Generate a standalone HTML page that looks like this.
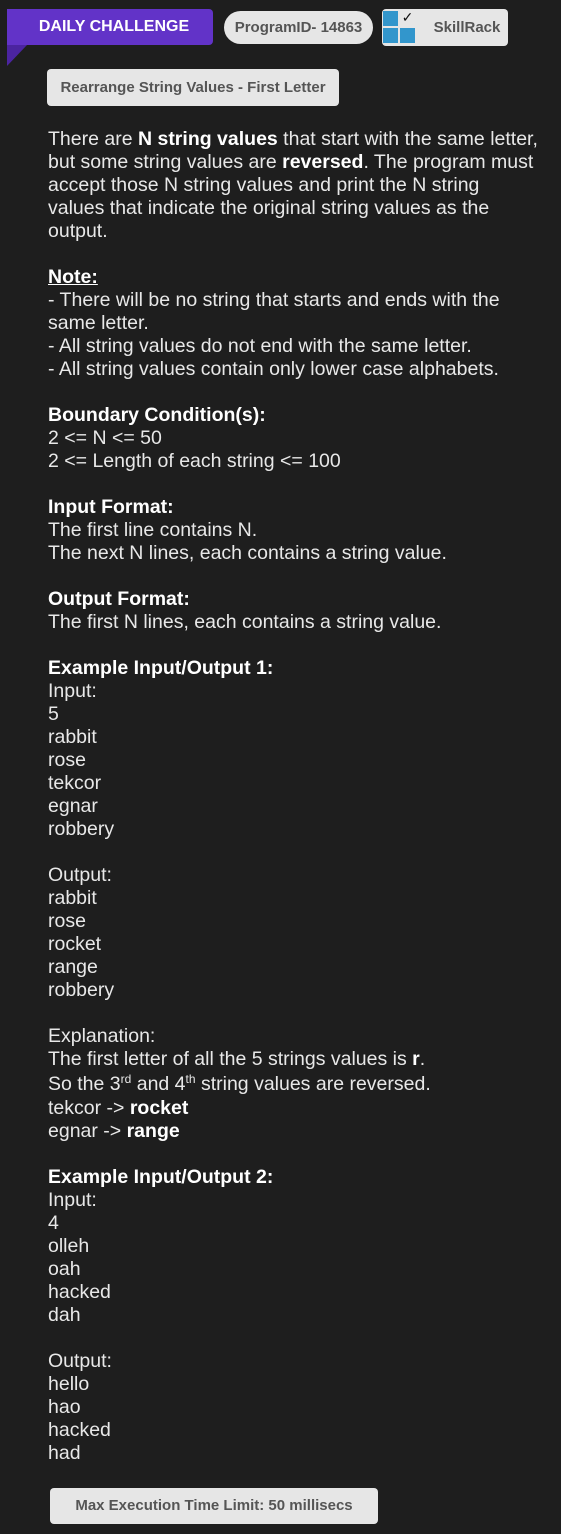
<!DOCTYPE html>
<html><head><meta charset="utf-8"><style>
html,body{margin:0;padding:0;background:#1e1e1e;}
body{width:561px;height:1534px;position:relative;overflow:hidden;font-family:"Liberation Sans",sans-serif;}
.dc{position:absolute;left:7px;top:9px;width:206px;height:36px;background:#6233c8;border-radius:0 4px 4px 0;color:#fff;font-weight:bold;font-size:16px;line-height:36px;text-align:center;padding-left:8px;box-sizing:border-box;}
.tri{position:absolute;left:7px;top:45px;width:0;height:0;border-left:20px solid #4b24a0;border-bottom:21px solid transparent;}
.pid{position:absolute;left:224px;top:11px;width:149px;height:33px;background:#e6e6e6;border-radius:17px;color:#555;font-weight:bold;font-size:15px;line-height:33px;text-align:center;}
.sr{position:absolute;left:382px;top:9px;width:126px;height:37px;background:#e6e6e6;border-radius:4px;}
.sr .q{position:absolute;width:15px;height:15px;background:#3296cc;}
.sr .t{position:absolute;left:44px;top:0;width:82px;line-height:37px;text-align:center;color:#555;font-weight:bold;font-size:15px;}
.title{position:absolute;left:47px;top:69px;width:292px;height:37px;background:#e6e6e6;border-radius:4px;color:#555;font-weight:bold;font-size:15px;line-height:37px;text-align:center;}
.body{position:absolute;left:48px;top:128px;width:520px;color:#e8e8e8;font-size:19.5px;line-height:23px;white-space:nowrap;}
.body p{margin:0;}
b{color:#fff;}
sup{font-size:12px;line-height:0;vertical-align:7px;}
.mx{position:absolute;left:50px;top:1488px;width:328px;height:36px;background:#e6e6e6;border-radius:4px;color:#555;font-weight:bold;font-size:15px;line-height:36px;text-align:center;}
</style></head><body>
<div class="dc">DAILY CHALLENGE</div>
<div class="tri"></div>
<div class="pid">ProgramID- 14863</div>
<div class="sr">
<div class="q" style="left:1px;top:2px"></div>
<div class="q" style="left:1px;top:19px"></div>
<div class="q" style="left:18px;top:19px"></div>
<div style="position:absolute;left:18px;top:1px;width:15px;height:15px;color:#111;font-size:14px;line-height:15px;text-align:center;">✓</div>
<div class="t">SkillRack</div>
</div>
<div class="title">Rearrange String Values - First Letter</div>
<div class="body">
<p>There are <b>N string values</b> that start with the same letter,<br>but some string values are <b>reversed</b>. The program must<br>accept those N string values and print the N string<br>values that indicate the original string values as the<br>output.</p>
<p>&nbsp;</p>
<p><b><u>Note:</u></b></p>
<p>- There will be no string that starts and ends with the<br>same letter.</p>
<p>- All string values do not end with the same letter.</p>
<p>- All string values contain only lower case alphabets.</p>
<p>&nbsp;</p>
<p><b>Boundary Condition(s):</b></p>
<p>2 &lt;= N &lt;= 50</p>
<p>2 &lt;= Length of each string &lt;= 100</p>
<p>&nbsp;</p>
<p><b>Input Format:</b></p>
<p>The first line contains N.</p>
<p>The next N lines, each contains a string value.</p>
<p>&nbsp;</p>
<p><b>Output Format:</b></p>
<p>The first N lines, each contains a string value.</p>
<p>&nbsp;</p>
<p><b>Example Input/Output 1:</b></p>
<p>Input:</p><p>5</p><p>rabbit</p><p>rose</p><p>tekcor</p><p>egnar</p><p>robbery</p>
<p>&nbsp;</p>
<p>Output:</p><p>rabbit</p><p>rose</p><p>rocket</p><p>range</p><p>robbery</p>
<p>&nbsp;</p>
<p>Explanation:</p>
<p>The first letter of all the 5 strings values is <b>r</b>.</p>
<p style="line-height:26px;">So the 3<sup>rd</sup> and 4<sup>th</sup> string values are reversed.</p>
<p>tekcor -&gt; <b>rocket</b></p>
<p>egnar -&gt; <b>range</b></p>
<p>&nbsp;</p>
<p><b>Example Input/Output 2:</b></p>
<p>Input:</p><p>4</p><p>olleh</p><p>oah</p><p>hacked</p><p>dah</p>
<p>&nbsp;</p>
<p>Output:</p><p>hello</p><p>hao</p><p>hacked</p><p>had</p>
</div>
<div class="mx">Max Execution Time Limit: 50 millisecs</div>
</body></html>
